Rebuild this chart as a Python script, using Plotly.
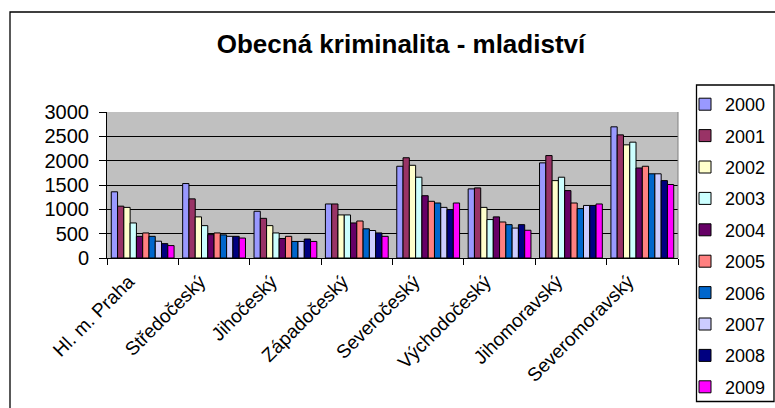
import plotly.graph_objects as go

regions = ["Hl. m. Praha", "Středočeský", "Jihočeský", "Západočeský",
           "Severočeský", "Východočeský", "Jihomoravský", "Severomoravský"]
years = ["2000", "2001", "2002", "2003", "2004", "2005", "2006", "2007", "2008", "2009"]

v2000 = [1360, 1530, 960, 1110, 1885, 1420, 1955, 2695]
v2001 = [1065, 1215, 815, 1110, 2060, 1440, 2105, 2530]
v2002 = [1040, 845, 665, 885, 1905, 1040, 1590, 2325]
v2003 = [720, 665, 515, 885, 1660, 790, 1660, 2380]
v2004 = [445, 480, 400, 720, 1280, 845, 1385, 1850]
v2005 = [515, 515, 445, 760, 1165, 740, 1130, 1885]
v2006 = [445, 475, 340, 600, 1130, 685, 1015, 1730]
v2007 = [345, 445, 340, 565, 1040, 615, 1080, 1730]
v2008 = [295, 445, 390, 515, 995, 685, 1080, 1590]
v2009 = [255, 410, 340, 445, 1130, 570, 1110, 1510]

series = [v2000, v2001, v2002, v2003, v2004, v2005, v2006, v2007, v2008, v2009]
colors = ["#9999FF", "#993366", "#FFFFCC", "#CCFFFF", "#660066",
          "#FF8080", "#0066CC", "#CCCCFF", "#000080", "#FF00FF"]

FONT = "Liberation Sans, Arial, sans-serif"

fig = go.Figure()
for name, vals, col in zip(years, series, colors):
    fig.add_trace(go.Bar(
        x=regions, y=vals, name=name, legendgroup=name,
        marker=dict(color=col, line=dict(color="black", width=1)),
    ))

# pixel -> paper helpers (plot area: x 107..678, y 112..258)
L, R, T, B = 107, 678, 112, 258
def px(x):
    return (x - L) / (R - L)
def py(y):
    return (B - y) / (B - T)

fig.update_layout(
    width=775, height=408,
    margin=dict(l=L, r=775 - R, t=T, b=408 - B, pad=0, autoexpand=False),
    paper_bgcolor="white",
    plot_bgcolor="#C0C0C0",
    barmode="group", bargap=0.12, bargroupgap=0,
    font=dict(family=FONT, color="black"),
    title=dict(text="<b>Obecná kriminalita - mladiství</b>",
               font=dict(family=FONT, size=26, color="black"),
               x=px(401), xref="paper", xanchor="center",
               y=1 - 44 / 408, yref="container", yanchor="middle"),
    xaxis=dict(type="category", tickangle=-45, tickson="boundaries",
               ticks="outside", ticklen=6, tickcolor="black",
               showline=True, linecolor="black", linewidth=1,
               showgrid=False, automargin=False,
               ticklabelshift=-14, ticklabelstandoff=4,
               tickfont=dict(size=19, family=FONT)),
    yaxis=dict(range=[0, 3000], dtick=500, ticks="outside", ticklen=7,
               tickcolor="black", showline=True, linecolor="black", linewidth=1,
               showgrid=True, gridcolor="black", gridwidth=1, zeroline=False,
               automargin=False,
               ticklabelstandoff=6, tickfont=dict(size=20, family=FONT)),
    legend=dict(x=px(685), xanchor="left", y=py(86), yanchor="top",
                bgcolor="rgba(0,0,0,0)", borderwidth=0, maxheight=360,
                font=dict(size=18, family=FONT), tracegroupgap=5),
    showlegend=True,
    shapes=[
        # outer chart border
        dict(type="rect", xref="paper", yref="paper",
             x0=px(10), x1=px(800), y0=py(430), y1=py(12),
             line=dict(color="black", width=1.3), layer="above"),
        # legend border
        dict(type="rect", xref="paper", yref="paper",
             x0=px(696.5), x1=px(774), y0=py(401.5), y1=py(85),
             line=dict(color="black", width=1.3), layer="above"),
        # right edge of plot area
        dict(type="line", xref="paper", yref="paper",
             x0=1, x1=1, y0=0, y1=1,
             line=dict(color="#808080", width=1), layer="above"),
    ],
)

fig.write_html("out.html", config={"displayModeBar": False},
               post_script="document.body.style.margin='0px';document.body.style.overflow='hidden';")
